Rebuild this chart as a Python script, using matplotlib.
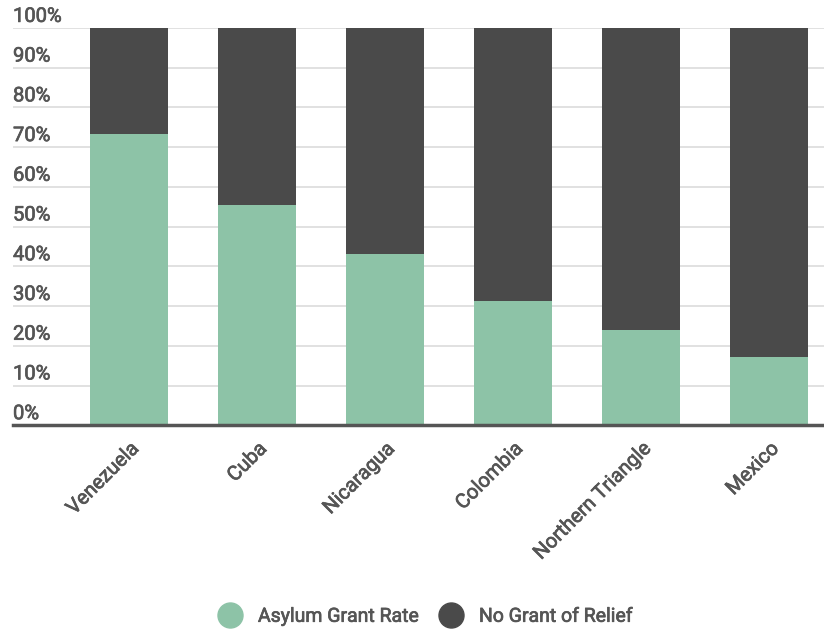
import matplotlib.pyplot as plt
import matplotlib.patheffects as pe
from matplotlib.lines import Line2D

plt.rcParams['font.family'] = ['Roboto', 'DejaVu Sans']

countries = ['Venezuela', 'Cuba', 'Nicaragua', 'Colombia', 'Northern Triangle', 'Mexico']
grant_rate = [73.2, 55.4, 43.1, 31.2, 23.9, 17.1]
no_relief = [100 - g for g in grant_rate]
yticks = [0, 10, 20, 30, 40, 50, 60, 70, 80, 90, 100]

green = '#8dc3a7'
dark = '#4a4a4a'
text_color = '#555555'
# thin stroke to mimic a medium weight
medium = [pe.withStroke(linewidth=0.5, foreground=text_color)]

fig = plt.figure(figsize=(8.24, 6.3), dpi=100)
ax = fig.add_axes([0.0158, 0.325, 0.9842, 0.6306])

x = range(len(countries))
ax.bar(x, grant_rate, width=0.61, color=green, zorder=2)
ax.bar(x, no_relief, width=0.61, bottom=grant_rate, color=dark, zorder=2)

ax.set_xlim(-0.906, 5.43)
ax.set_ylim(0, 100)

# gridlines and y labels sitting above each line
for t in yticks[1:]:
    ax.axhline(t, color='#dcdcdc', lw=1.2, zorder=1)
for t in yticks:
    ax.annotate(f'{t}%', xy=(0, t), xycoords=('axes fraction', 'data'),
                xytext=(0, 1.5), textcoords='offset points',
                ha='left', va='bottom', fontsize=14.5,
                color=text_color, path_effects=medium)

ax.set_yticks([])
ax.set_xticks(list(x))
ax.set_xticklabels(countries, rotation=45, ha='right', va='top',
                   rotation_mode='anchor', fontsize=14.5,
                   color=text_color, path_effects=medium)
ax.tick_params(axis='x', length=0, pad=10)

for s in ['top', 'right', 'left']:
    ax.spines[s].set_visible(False)
ax.spines['bottom'].set_color('#555555')
ax.spines['bottom'].set_linewidth(2.5)
ax.spines['bottom'].set_zorder(3)

handles = [
    Line2D([], [], marker='o', ls='', markersize=18, color=green),
    Line2D([], [], marker='o', ls='', markersize=18, color=dark),
]
leg = fig.legend(handles, ['Asylum Grant Rate', 'No Grant of Relief'],
                 loc='center', bbox_to_anchor=(0.512, 0.021), ncol=2, frameon=False,
                 prop={'size': 14}, labelcolor=text_color,
                 handletextpad=0.45, columnspacing=0.6)
for txt in leg.get_texts():
    txt.set_path_effects(medium)

fig.savefig('out.png', dpi=100)
